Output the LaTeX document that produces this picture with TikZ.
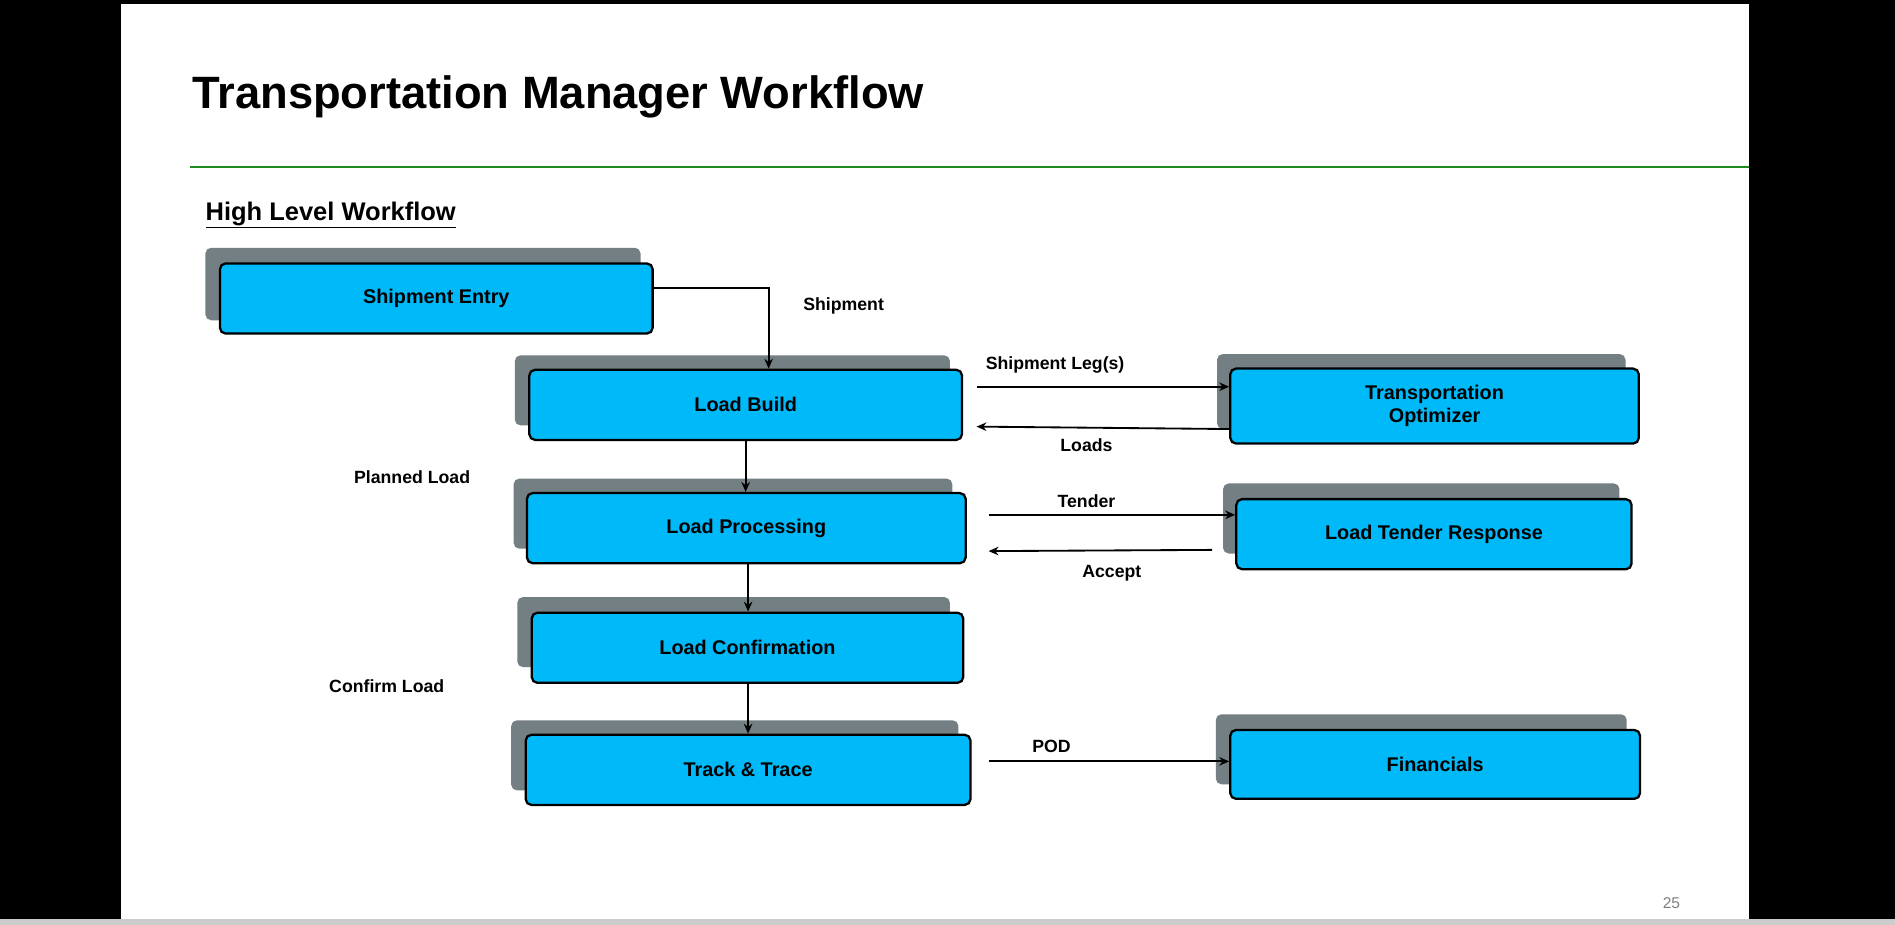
\documentclass[tikz,border=0pt]{standalone}
\usepackage{fontspec}
\setmainfont{Liberation Sans}
\usetikzlibrary{arrows.meta}
\definecolor{boxblue}{HTML}{00B9F9}
\definecolor{shad}{HTML}{737F82}
\definecolor{grn}{HTML}{1E8B1E}
\begin{document}
\begin{tikzpicture}[x=0.03cm,y=-0.03cm,
  shadowbox/.style={fill=shad,rounded corners=4pt},
  bluebox/.style={fill=boxblue,draw=black,line width=1.6pt,rounded corners=4pt,font=\bfseries\fontsize{14}{16}\selectfont,align=center},
  conn/.style={line width=1.3pt,-{Stealth[length=7pt,width=6pt]}},
  lbl/.style={font=\bfseries\fontsize{12.5}{14}\selectfont}]
\fill[black] (0,0) rectangle (1568,765);
\fill[white] (100,3) rectangle (1447,760);
\fill[gray!40] (0,760) rectangle (1568,765);
\useasboundingbox (0,0) rectangle (1568,765);
\node[anchor=west,font=\bfseries\fontsize{32}{36}\selectfont] (title) at (155,80) {Transportation Manager Workflow};
\draw[grn,line width=1.3pt] (157,138) -- (1447,138);
\node[anchor=west,font=\bfseries\fontsize{18}{20}\selectfont] (sub) at (166,178) {\underline{High Level Workflow}};
% shadows
\fill[shadowbox] (170,205) rectangle (530,265);
\fill[shadowbox] (426,294) rectangle (786,352);
\fill[shadowbox] (1007,293) rectangle (1345,355);
\fill[shadowbox] (425,396) rectangle (788,454);
\fill[shadowbox] (1012,400) rectangle (1340,458);
\fill[shadowbox] (428,494) rectangle (786,552);
\fill[shadowbox] (423,596) rectangle (793,654);
\fill[shadowbox] (1006,591) rectangle (1346,649);
% boxes
\node[bluebox,minimum width=358*0.03cm,minimum height=58*0.03cm] (se) at (361,247) {Shipment Entry};
\node[bluebox,minimum width=358*0.03cm,minimum height=58*0.03cm] (lb) at (617,335) {Load Build};
\node[bluebox,minimum width=338*0.03cm,minimum height=62*0.03cm] (to) at (1187,336) {Transportation\\Optimizer};
\node[bluebox,minimum width=363*0.03cm,minimum height=58*0.03cm] (lp) at (617.5,437) {Load Processing};
\node[bluebox,minimum width=327*0.03cm,minimum height=58*0.03cm] (ltr) at (1186.5,442) {Load Tender Response};
\node[bluebox,minimum width=357*0.03cm,minimum height=58*0.03cm] (lc) at (618.5,536) {Load Confirmation};
\node[bluebox,minimum width=368*0.03cm,minimum height=58*0.03cm] (tt) at (619,637) {Track \& Trace};
\node[bluebox,minimum width=339*0.03cm,minimum height=57*0.03cm] (fin) at (1187.5,632.5) {Financials};
% connectors
\draw[conn] (se.east|-0,238) -| (636,0|-lb.north);
\draw[conn] (617,0|-lb.south) -- (617,0|-lp.north);
\draw[conn] (619,0|-lp.south) -- (619,0|-lc.north);
\draw[conn] (619,0|-lc.south) -- (619,0|-tt.north);
\draw[conn] (808,320) -- (to.west|-0,320);
\draw[conn] (to.west|-0,355) -- (808,353);
\draw[conn] (818,426) -- (ltr.west|-0,426);
\draw[conn] (1003,455) -- (818,456);
\draw[conn] (818,630) -- (fin.west|-0,630);
% labels
\node[lbl] (l1) at (698,253) {Shipment};
\node[lbl] (l2) at (873,302) {Shipment Leg(s)};
\node[lbl] (l3) at (899,368) {Loads};
\node[lbl] (l4) at (899,415) {Tender};
\node[lbl] (l5) at (920,474) {Accept};
\node[lbl] (l6) at (870,618) {POD};
\node[lbl] (l7) at (341,395) {Planned Load};
\node[lbl] (l8) at (320,568) {Confirm Load};
\node[font=\fontsize{11}{12}\selectfont,text=gray] (pg) at (1383,747) {25};
\end{tikzpicture}
\end{document}
